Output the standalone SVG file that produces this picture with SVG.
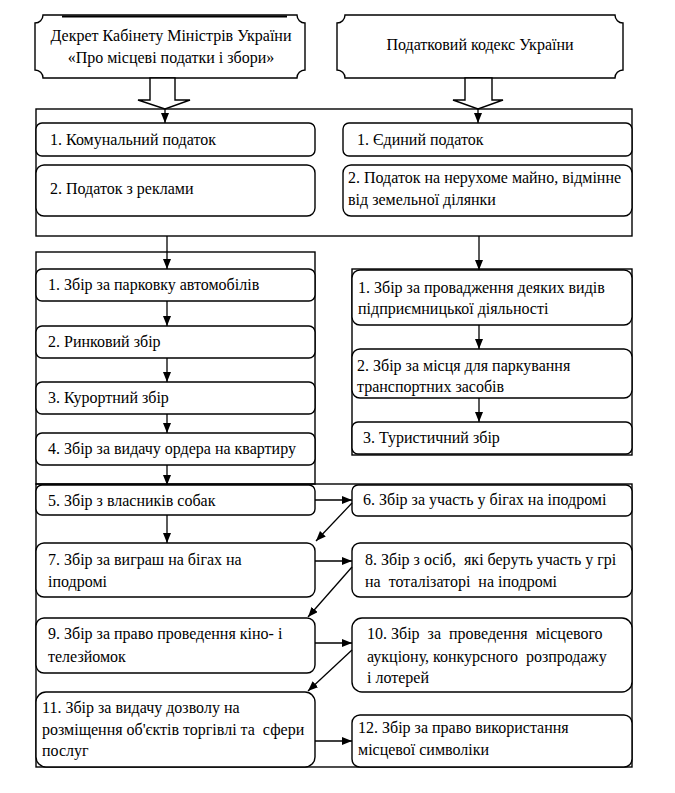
<svg xmlns="http://www.w3.org/2000/svg" width="675" height="793" viewBox="0 0 675 793" font-family="'Liberation Serif', 'DejaVu Serif', 'Times New Roman', serif">
<defs>
<marker id="ah" markerWidth="10" markerHeight="8" refX="10" refY="4" orient="auto" markerUnits="userSpaceOnUse"><path d="M0,0 L10,4 L0,8 z" fill="#000"/></marker>
<style>
.b{fill:#fff;stroke:#000;stroke-width:1.4}
.c{fill:none;stroke:#000;stroke-width:1.4}
.ln{fill:none;stroke:#000;stroke-width:1.3;marker-end:url(#ah)}
text{font-family:'Liberation Serif','DejaVu Serif',serif;font-size:16px;fill:#000}
.m{text-anchor:middle}
</style>
</defs>
<rect width="675" height="793" fill="#fff"/>
<g id="containers">
<rect class="c" x="36" y="109" width="596" height="127"/>
<rect class="c" x="36" y="252" width="279" height="232"/>
<rect class="c" x="36" y="484" width="596" height="283"/>
<rect class="c" x="352" y="269" width="280" height="186"/>
</g>
<g id="decree">
<path class="b" d="M43,15 H297 A8 8 0 0 0 305,23 V70 A8 8 0 0 0 297,78 H43 A8 8 0 0 0 35,70 V23 A8 8 0 0 0 43,15 Z"/>
<line x1="62" y1="16.5" x2="287" y2="16.5" stroke="#000" stroke-width="2"/>
<text class="m" x="171" y="41">Декрет Кабінету Міністрів України</text>
<text class="m" x="171" y="63">«Про місцеві податки і збори»</text>
</g>
<g id="code">
<path class="b" d="M345,15 H615 A8 8 0 0 0 623,23 V70 A8 8 0 0 0 615,78 H345 A8 8 0 0 0 337,70 V23 A8 8 0 0 0 345,15 Z"/>
<text class="m" x="480" y="50">Податковий кодекс України</text>
</g>
<g id="l-tax1"><rect class="b" x="36" y="123" width="279" height="33" rx="6"/><text x="50" y="145">1. Комунальний податок</text></g>
<g id="l-tax2"><rect class="b" x="36" y="165" width="279" height="51" rx="8"/><text x="50" y="194">2. Податок з реклами</text></g>
<g id="r-tax1"><rect class="b" x="343" y="123" width="289" height="33" rx="6"/><text x="357" y="145">1. Єдиний податок</text></g>
<g id="r-tax2"><rect class="b" x="343" y="165" width="289" height="51" rx="8"/><text x="348" y="183">2. Податок на нерухоме майно, відмінне</text><text x="348" y="205">від земельної ділянки</text></g>
<g id="l-fee1"><rect class="b" x="36" y="269" width="279" height="32" rx="6"/><text x="48" y="290">1. Збір за парковку автомобілів</text></g>
<g id="l-fee2"><rect class="b" x="36" y="326" width="279" height="32" rx="6"/><text x="48" y="347">2. Ринковий збір</text></g>
<g id="l-fee3"><rect class="b" x="36" y="382" width="279" height="32" rx="6"/><text x="48" y="403">3. Курортний збір</text></g>
<g id="l-fee4"><rect class="b" x="36" y="433" width="279" height="32" rx="6"/><text x="48" y="454">4. Збір за видачу ордера на квартиру</text></g>
<g id="r-fee1"><rect class="b" x="352" y="270" width="280" height="55" rx="8"/><text x="358" y="293">1. Збір за провадження деяких видів</text><text x="358" y="314">підприємницької діяльності</text></g>
<g id="r-fee2"><rect class="b" x="352" y="349" width="280" height="49" rx="8"/><text x="357" y="371">2. Збір за місця для паркування</text><text x="357" y="392">транспортних засобів</text></g>
<g id="r-fee3"><rect class="b" x="352" y="422" width="280" height="32" rx="6"/><text x="363" y="443">3. Туристичний збір</text></g>
<g id="fee5"><rect class="b" x="36" y="485" width="279" height="30" rx="6"/><text x="48" y="506">5. Збір з власників собак</text></g>
<g id="fee6"><rect class="b" x="352" y="485" width="280" height="31" rx="6"/><text x="363" y="505">6. Збір за участь у бігах на іподромі</text></g>
<g id="fee7"><rect class="b" x="36" y="543" width="279" height="54" rx="8"/><text x="48" y="565">7. Збір за виграш на бігах на</text><text x="48" y="587">іподромі</text></g>
<g id="fee8"><rect class="b" x="352" y="543" width="280" height="54" rx="8"/><text x="365" y="565" xml:space="preserve">8. Збір з осіб,  які беруть участь у грі</text><text x="365" y="587" xml:space="preserve">на  тоталізаторі  на іподромі</text></g>
<g id="fee9"><rect class="b" x="36" y="618" width="279" height="55" rx="8"/><text x="48" y="639">9. Збір за право проведення кіно- і</text><text x="48" y="662">телезйомок</text></g>
<g id="fee10"><rect class="b" x="352" y="618" width="280" height="74" rx="10"/><text x="367" y="639" xml:space="preserve">10. Збір  за  проведення  місцевого</text><text x="367" y="662" xml:space="preserve">аукціону, конкурсного  розпродажу</text><text x="367" y="683">і лотерей</text></g>
<g id="fee11"><rect class="b" x="36" y="692" width="279" height="75" rx="10"/><text x="42" y="713">11. Збір за видачу дозволу на</text><text x="42" y="735" xml:space="preserve">розміщення об'єктів торгівлі та  сфери</text><text x="42" y="756">послуг</text></g>
<g id="fee12"><rect class="b" x="352" y="715" width="280" height="52" rx="8"/><text x="358" y="733">12. Збір за право використання</text><text x="358" y="755">місцевої символіки</text></g>
<g id="connectors">
<polygon class="b" points="150,78 175,78 175,100 190,100 165,109 138,100 150,100"/>
<polygon class="b" points="465,78 492,78 492,100 503,100 478,109 453,100 465,100"/>
<path class="ln" d="M165,109 V123"/>
<path class="ln" d="M478,109 V123"/>
<path class="ln" d="M167,236 V269"/>
<path class="ln" d="M479,236 V270"/>
<path class="ln" d="M167,301 V326"/>
<path class="ln" d="M167,358 V382"/>
<path class="ln" d="M167,414 V433"/>
<path class="ln" d="M167,465 V485"/>
<path class="ln" d="M167,515 V543"/>
<path class="ln" d="M479,325 V349"/>
<path class="ln" d="M479,398 V422"/>
<path class="ln" d="M315,500 H352"/>
<path class="ln" d="M352,503 L316,541"/>
<path class="ln" d="M315,561 H352"/>
<path class="ln" d="M352,567 L308,617"/>
<path class="ln" d="M315,643 H352"/>
<path class="ln" d="M352,650 L308,691"/>
<path class="ln" d="M315,741 H352"/>
</g>
</svg>
